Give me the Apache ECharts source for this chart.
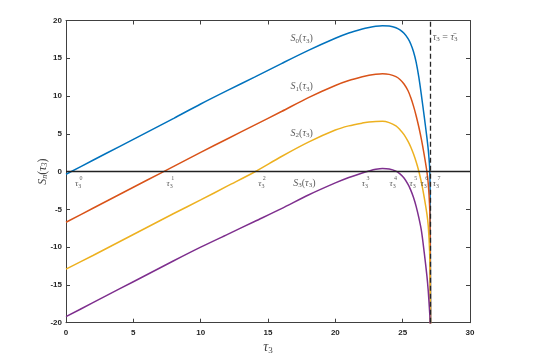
<!DOCTYPE html>
<html>
<head>
<meta charset="utf-8">
<script src="https://cdn.jsdelivr.net/npm/echarts@6/dist/echarts.min.js"></script>
<style>
	html, body { margin: 0; padding: 0; background: #fff; }
	#main { width: 554px; height: 360px; }
</style>
</head>
<body>
<div id="main"></div>
<script>
// sample points along tau_3, dense near the asymptote
var tau = [0, 2, 4, 6, 8, 10, 12, 14, 16, 18, 20, 21, 22, 22.5, 23, 23.5, 24, 24.5, 24.8, 25.1, 25.4, 25.6, 25.8, 26.0, 26.2, 26.4, 26.6, 26.8, 26.9, 27.0, 27.04, 27.08];
var s0 = [-0.35, 1.5, 3.35, 5.2, 7.05, 8.95, 10.75, 12.5, 14.3, 16.05, 17.65, 18.35, 18.88, 19.08, 19.23, 19.3, 19.26, 19.05, 18.75, 18.3, 17.6, 16.9, 15.9, 14.5, 12.5, 10.0, 7.3, 4.5, 2.9, 0.6, -3, -25];
var s1 = [-6.7, -4.85, -3.0, -1.15, 0.7, 2.55, 4.35, 6.15, 7.95, 9.8, 11.4, 12.05, 12.55, 12.75, 12.88, 12.95, 12.87, 12.58, 12.2, 11.6, 10.7, 9.8, 8.7, 7.4, 5.9, 4.2, 2.2, 0, -1.6, -4.5, -8, -25];
var s2 = [-12.9, -11.1, -9.25, -7.4, -5.55, -3.75, -1.9, -0.05, 2.0, 3.9, 5.5, 6.05, 6.42, 6.55, 6.63, 6.65, 6.48, 6.05, 5.55, 4.9, 4.0, 3.25, 2.35, 1.3, 0.05, -1.5, -3.4, -5.6, -7.2, -10.5, -15, -25];
var s3 = [-19.2, -17.35, -15.5, -13.65, -11.8, -10.0, -8.3, -6.6, -4.9, -3.1, -1.5, -0.78, -0.18, 0.08, 0.3, 0.42, 0.35, 0.07, -0.3, -0.85, -1.7, -2.45, -3.4, -4.6, -6.1, -7.9, -10.7, -13.8, -15.8, -18.5, -19.7, -25];
var tauBar = 27.08;

// text annotations
var curveNames = ['0', '1', '2', '3'];
var curveLabelX = [17.5, 17.5, 17.5, 17.7];
var curveLabelY = [17.6, 11.3, 5.1, -1.5];
var rootNames = ['0', '1', '2', '3', '4', '5', '6', '7'];
var rootX = [0.9, 7.7, 14.5, 22.2, 24.25, 25.74, 26.56, 27.47];
var rootY = -1.6;

var colors = ['#0072BD', '#D95319', '#EDB120', '#7E2F8E'];
var serif = 'Liberation Serif';

function pairs(xs, ys) {
	var out = [];
	for (var i = 0; i < xs.length; i++) out.push([xs[i], ys[i]]);
	return out;
}

function drawChart() {
	var myChart = echarts.init(document.getElementById('main'), null, { renderer: 'canvas' });

	var mathRich = {
		i: { fontFamily: serif, fontStyle: 'italic', fontSize: 10, color: '#333' },
		n: { fontFamily: serif, fontSize: 10, color: '#333' },
		b: { fontFamily: serif, fontSize: 7, color: '#333', padding: [5, 0, 0, 0] }
	};

	var curveLabelData = [];
	for (var i = 0; i < curveNames.length; i++) {
		curveLabelData.push({
			value: [curveLabelX[i], curveLabelY[i]],
			label: { formatter: '{i|S}{b|' + curveNames[i] + '}{n|(}{i|τ}{b|3}{n|)}' }
		});
	}

	// tau_3^k markers: tau + subscript, then the superscript as its own label
	var rootData = [];
	for (var k = 0; k < rootX.length; k++) {
		rootData.push({
			value: [rootX[k], rootY],
			label: { formatter: '{i|τ}{b|3}' }
		});
		rootData.push({
			value: [rootX[k], rootY],
			label: { formatter: '{s|' + rootNames[k] + '}', offset: [3, -5] }
		});
	}

	var lineSeries = [s0, s1, s2, s3].map(function (ys, idx) {
		return {
			type: 'line',
			data: pairs(tau, ys),
			showSymbol: false,
			smooth: 0.3,
			clip: true,
			lineStyle: { color: colors[idx], width: 1.5 },
			z: 3
		};
	});

	// zero line and asymptote
	lineSeries[3].markLine = {
		silent: true,
		symbol: 'none',
		label: { show: false },
		data: [
			{ yAxis: 0, lineStyle: { color: '#222', type: 'solid', width: 1.4 } },
			{ xAxis: tauBar, lineStyle: { color: '#262626', type: [5, 3], width: 1.3 } }
		]
	};

	var axisStyle = { show: true, onZero: false, lineStyle: { color: '#404040', width: 1 } };
	var tickStyle = { inside: true, length: 4, lineStyle: { color: '#404040' } };
	var tickFont = { fontFamily: 'Liberation Sans', fontSize: 8, fontWeight: 'bold', color: '#262626' };

	var option = {
		animation: false,
		backgroundColor: '#fff',
		grid: { left: 66, right: 84, top: 20.5, bottom: 37.3, containLabel: false, outerBoundsMode: 'none' },
		xAxis: [{
			type: 'value', min: 0, max: 30, interval: 5, position: 'bottom',
			axisLine: axisStyle, axisTick: tickStyle, splitLine: { show: false },
			axisLabel: Object.assign({ margin: 6 }, tickFont),
			name: '{i|τ}{b|3}', nameLocation: 'middle', nameGap: 17, nameMoveOverlap: false,
			nameTextStyle: {
				rich: {
					i: { fontFamily: serif, fontStyle: 'italic', fontSize: 14, color: '#444' },
					b: { fontFamily: serif, fontSize: 9, color: '#444', padding: [6, 0, 0, 0] }
				}
			}
		}, {
			type: 'value', min: 0, max: 30, interval: 5, position: 'top',
			axisLine: axisStyle, axisTick: tickStyle, splitLine: { show: false },
			axisLabel: { show: false }
		}],
		yAxis: [{
			type: 'value', min: -20, max: 20, interval: 5, position: 'left',
			axisLine: axisStyle, axisTick: tickStyle, splitLine: { show: false },
			axisLabel: Object.assign({ margin: 4 }, tickFont),
			name: '{i|S}{b|n}{n|(}{i|τ}{b|3}{n|)}', nameLocation: 'middle', nameGap: 17, nameMoveOverlap: false,
			nameTextStyle: {
				rich: {
					i: { fontFamily: serif, fontStyle: 'italic', fontSize: 12, color: '#444' },
					n: { fontFamily: serif, fontSize: 12, color: '#444' },
					b: { fontFamily: serif, fontStyle: 'italic', fontSize: 8, color: '#444', padding: [5, 0, 0, 0] }
				}
			}
		}, {
			type: 'value', min: -20, max: 20, interval: 5, position: 'right',
			axisLine: axisStyle, axisTick: tickStyle, splitLine: { show: false },
			axisLabel: { show: false }
		}],
		series: lineSeries.concat([{
			type: 'scatter',
			symbolSize: 0,
			silent: true,
			data: curveLabelData,
			label: { show: true, position: 'inside', rich: mathRich },
			z: 5
		}, {
			type: 'scatter',
			symbolSize: 0,
			silent: true,
			data: rootData,
			label: {
				show: true, position: 'inside',
				rich: {
					i: { fontFamily: serif, fontStyle: 'italic', fontSize: 9, color: '#333' },
					b: { fontFamily: serif, fontSize: 6, color: '#333', padding: [5, 0, 0, 0] },
					s: { fontFamily: serif, fontSize: 6, color: '#333' }
				}
			},
			z: 5
		}, {
			type: 'scatter',
			symbolSize: 0,
			silent: true,
			data: [[tauBar + 0.15, 17.8]],
			label: {
				show: true, position: 'right', distance: 0,
				formatter: '{i|τ}{b|3}{n| = }{i|τ\u0304}{b|3}',
				rich: mathRich
			},
			z: 5
		}])
	};

	myChart.setOption(option);
}

drawChart();
</script>
</body>
</html>
